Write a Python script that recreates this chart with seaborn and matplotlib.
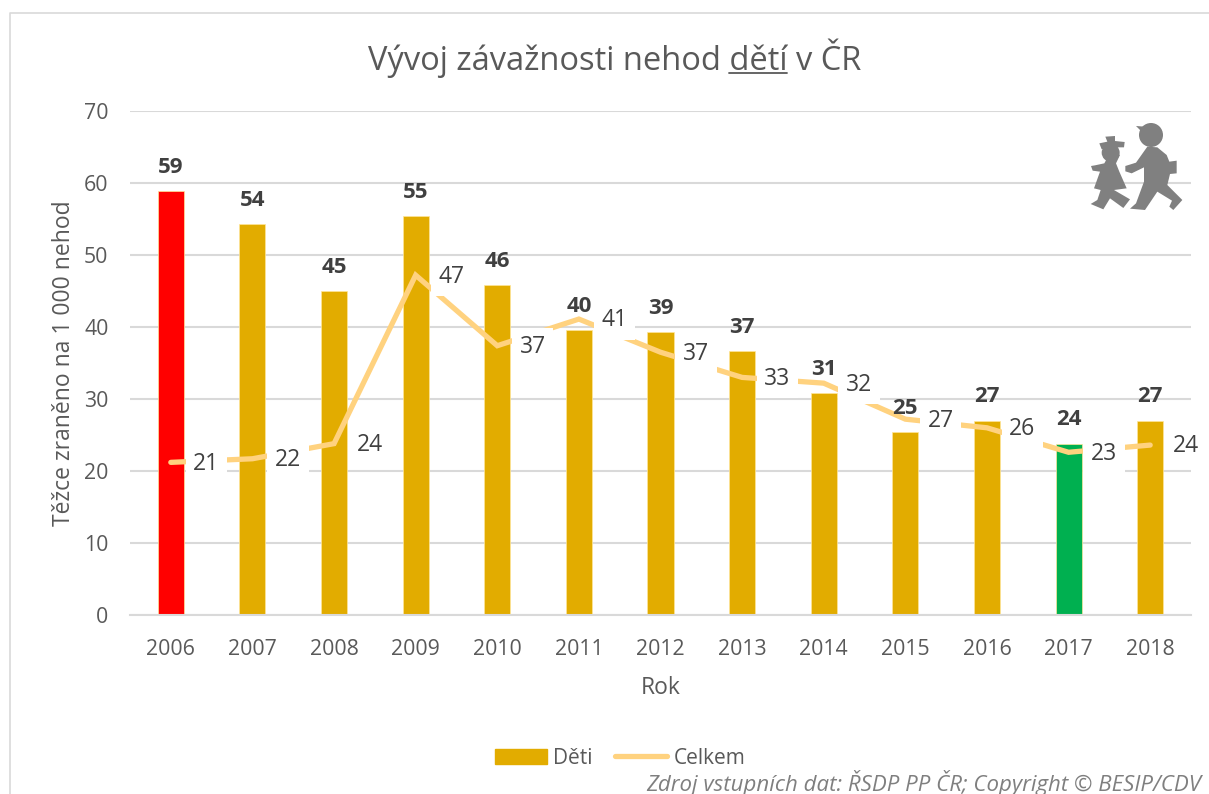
import numpy as np
import matplotlib
matplotlib.use('Agg')
import matplotlib.pyplot as plt
from matplotlib.patches import Polygon, Circle, Patch
from matplotlib.lines import Line2D
import seaborn as sns

years = ['2006', '2007', '2008', '2009', '2010', '2011', '2012', '2013', '2014', '2015', '2016', '2017', '2018']
deti = [58.9, 54.3, 45.0, 55.4, 45.8, 39.6, 39.3, 36.6, 30.8, 25.4, 27.0, 23.8, 27.0]
celkem = [21.2, 21.7, 23.8, 47.2, 37.4, 41.1, 36.5, 33.0, 32.2, 27.2, 26.0, 22.6, 23.6]
deti_labels = ['59', '54', '45', '55', '46', '40', '39', '37', '31', '25', '27', '24', '27']
celkem_labels = ['21', '22', '24', '47', '37', '41', '37', '33', '32', '27', '26', '23', '24']
bar_colors = ['#FF0000'] + ['#E2AC00'] * 10 + ['#00B050', '#E2AC00']

sns.set_theme(style='white')
plt.rcParams['font.family'] = ['Open Sans', 'DejaVu Sans']
text_c = '#595959'
W, H = 1209, 794

fig = plt.figure(figsize=(W / 100, H / 100), dpi=100)
ax = fig.add_axes([130 / W, 1 - 615 / H, (1191 - 130) / W, (615 - 111) / H])

# bars and line
sns.barplot(x=years, y=deti, hue=years, palette=bar_colors, saturation=1, legend=False, width=0.32,
            edgecolor='#FFE699', linewidth=0.5, ax=ax, zorder=2)
sns.lineplot(x=np.arange(len(years)), y=celkem, color='#FFD27F', linewidth=3.8, ax=ax, zorder=3,
             solid_capstyle='round', solid_joinstyle='miter', errorbar=None)

ax.set_xlim(-0.5, len(years) - 0.5)
ax.set_ylim(0, 70)
ax.set_yticks(range(0, 71, 10))
ax.yaxis.grid(True, color='#D9D9D9', linewidth=1.5, zorder=0)
ax.set_axisbelow(True)
for s in ['top', 'left', 'right']:
    ax.spines[s].set_visible(False)
ax.spines['bottom'].set_color('#D9D9D9')
ax.spines['bottom'].set_linewidth(1.5)
ax.tick_params(axis='y', length=0, labelsize=15.3, labelcolor=text_c, pad=15.5)
ax.tick_params(axis='x', length=0, labelsize=15.3, labelcolor=text_c, pad=17.5)
ax.set_xlabel('Rok', fontsize=16.5, color=text_c, labelpad=11)
ax.set_ylabel('Těžce zraněno na 1 000 nehod', fontsize=16.5, color=text_c, labelpad=5.5)

# data labels, white box behind the line's labels
for i in range(len(years)):
    ax.annotate(deti_labels[i], (i, deti[i]), xytext=(0, 9.5), textcoords='offset points',
                ha='center', va='bottom', fontsize=16, fontweight='bold', color='#404040', zorder=6)
    ax.annotate(celkem_labels[i], (i, celkem[i]), xytext=(25.5, -1), textcoords='offset points',
                ha='center', va='center', fontsize=16.5, color='#404040', zorder=5,
                bbox=dict(boxstyle='square,pad=0.33', fc='white', ec='none'))

fig.text(615 / W, 1 - 58 / H, 'Vývoj závažnosti nehod dětí v ČR', fontsize=23.5,
         color=text_c, ha='center', va='center')
fig.add_artist(Line2D([729 / W, 787 / W], [1 - 73 / H, 1 - 73 / H], color=text_c, linewidth=1.3))

# legend
handles = [Patch(color='#E2AC00', label='Děti'),
           Line2D([0], [0], color='#FFD27F', linewidth=3.8, solid_capstyle='round', label='Celkem')]
fig.legend(handles=handles, loc='center', bbox_to_anchor=(620 / W, 1 - 758 / H), ncol=2, frameon=False,
           fontsize=15, labelcolor=text_c, handlelength=2.5, handletextpad=0.3, columnspacing=1.1)

fig.text(1201 / W, 1 - 783 / H, 'Zdroj vstupních dat: ŘSDP PP ČR; Copyright © BESIP/CDV', fontsize=16,
         style='italic', color='#7F7F7F', ha='right', va='center')

# outer frame, left and top sides only are visible
fig.add_artist(Line2D([9.5 / W, 9.5 / W, 1], [0, 1 - 12.5 / H, 1 - 12.5 / H], color='#D9D9D9', linewidth=1.2))

# children icon, in zoomed-crop pixels
icon = fig.add_axes([1070 / W, 1 - 220 / H, 130 / W, 110 / H], zorder=8)
icon.set_xlim(0, 390)
icon.set_ylim(330, 0)
icon.axis('off')
g = '#808080'
girl = [(122, 125), (150, 135), (138, 160), (148, 185), (170, 235), (132, 240), (180, 268), (160, 294), (120, 265),
        (100, 298), (62, 282), (82, 270), (92, 240), (72, 235), (90, 185), (68, 182), (63, 168), (75, 166), (103, 160)]
hat = [(88, 100), (112, 95), (106, 80), (135, 78), (135, 93), (164, 96), (162, 112), (120, 112), (95, 118)]
boy = [(232, 110), (262, 112), (290, 135), (298, 155), (320, 152),
       (320, 190), (300, 192), (292, 225), (337, 270), (310, 300), (298, 290), (306, 272), (262, 245), (225, 300),
       (180, 296), (198, 280), (222, 215), (222, 172), (185, 190), (166, 184), (166, 168), (198, 158)]
brim = [(198, 48), (225, 50), (225, 75), (212, 62)]
icon.add_patch(Polygon(girl, closed=True, fc=g, ec='none'))
icon.add_patch(Polygon(hat, closed=True, fc=g, ec='none'))
icon.add_patch(Circle((122, 128), 27, fc=g, ec='none'))
icon.add_patch(Polygon(boy, closed=True, fc=g, ec='none'))
icon.add_patch(Polygon(brim, closed=True, fc=g, ec='none'))
icon.add_patch(Circle((243, 75), 36, fc=g, ec='none'))

fig.savefig('out.png', dpi=100)
